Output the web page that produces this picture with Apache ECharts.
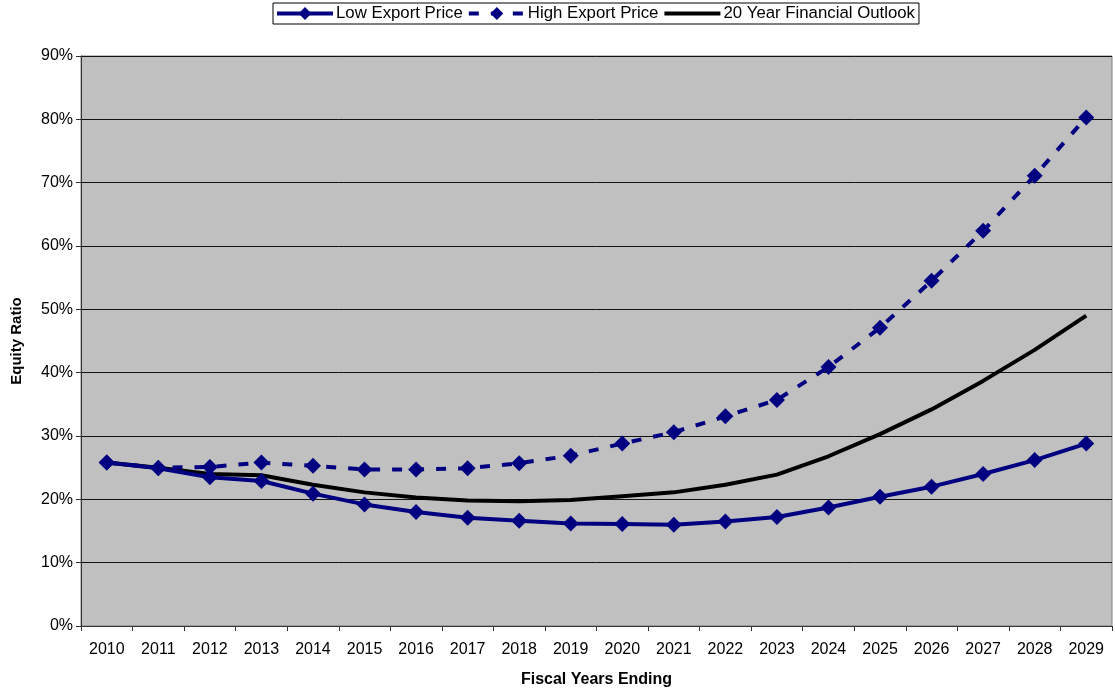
<!DOCTYPE html>
<html>
<head>
<meta charset="utf-8">
<script src="https://cdn.jsdelivr.net/npm/echarts@6/dist/echarts.min.js"></script>
<style>
  html, body { margin: 0; padding: 0; background: #fff; }
  #chart { width: 1115px; height: 694px; }
</style>
</head>
<body>
<div id="chart"></div>
<script>
// Fiscal years on the category axis
const years = ['2010','2011','2012','2013','2014','2015','2016','2017','2018','2019',
               '2020','2021','2022','2023','2024','2025','2026','2027','2028','2029'];

// Equity ratio (%) under each scenario
const lowExport = [25.8, 24.9, 23.5, 22.9, 20.9, 19.2, 18.0, 17.1, 16.6, 16.2,
                   16.1, 16.0, 16.5, 17.2, 18.7, 20.4, 22.0, 24.0, 26.2, 28.8];
const highExport = [25.8, 25.0, 25.1, 25.8, 25.3, 24.7, 24.7, 24.9, 25.7, 26.9,
                    28.8, 30.6, 33.1, 35.7, 40.9, 47.1, 54.5, 62.4, 71.1, 80.3];
const outlook20 = [25.8, 25.0, 24.0, 23.8, 22.3, 21.1, 20.3, 19.8, 19.7, 19.9,
                   20.5, 21.1, 22.3, 23.9, 26.8, 30.3, 34.2, 38.7, 43.6, 49.0];

const seriesNames = ['Low Export Price', 'High Export Price', '20 Year Financial Outlook'];

const font = 'Arial, "Liberation Sans", sans-serif';
const navy = '#000080';

const chart = echarts.init(document.getElementById('chart'), null, { renderer: 'canvas' });

chart.setOption({
  animation: false,
  backgroundColor: '#ffffff',
  textStyle: { fontFamily: font, color: '#000' },
  legend: {
    data: [
      { name: seriesNames[0], lineStyle: { width: 4 } },
      { name: seriesNames[1], lineStyle: { width: 4 } },
      { name: seriesNames[2], lineStyle: { width: 4 }, itemStyle: { opacity: 0 } }
    ],
    left: 273,
    top: 3,
    padding: [2, 4, 2, 2],
    itemGap: 4,
    itemWidth: 56,
    itemHeight: 16,
    borderColor: '#000',
    borderWidth: 1,
    textStyle: { fontFamily: font, fontSize: 16.8, color: '#000', padding: [0, 0, 0, -2] }
  },
  grid: {
    left: 81,
    right: 3,
    top: 56,
    bottom: 68,
    outerBoundsMode: 'none',
    containLabel: false,
    show: true,
    backgroundColor: '#c0c0c0',
    borderColor: '#808080',
    borderWidth: 1
  },
  xAxis: {
    type: 'category',
    data: years,
    boundaryGap: true,
    name: 'Fiscal Years Ending',
    nameLocation: 'middle',
    nameGap: 46,
    nameTextStyle: { fontFamily: font, fontSize: 16, fontWeight: 'bold', color: '#000' },
    axisLine: { lineStyle: { color: '#333', width: 1 } },
    axisTick: { show: true, length: 5, lineStyle: { color: '#333' } },
    axisLabel: { fontFamily: font, fontSize: 16, color: '#000', margin: 16 }
  },
  yAxis: {
    type: 'value',
    min: 0,
    max: 90,
    interval: 10,
    name: 'Equity Ratio',
    nameLocation: 'middle',
    nameGap: 57,
    nameRotate: 90,
    nameTextStyle: { fontFamily: font, fontSize: 15, fontWeight: 'bold', color: '#000' },
    axisLine: { show: true, lineStyle: { color: '#333', width: 1 } },
    axisTick: { show: true, length: 5, lineStyle: { color: '#333' } },
    axisLabel: { fontFamily: font, fontSize: 16, color: '#000', margin: 8, formatter: '{value}%' },
    splitLine: { show: true, lineStyle: { color: '#111', width: 1 } }
  },
  series: [
    {
      name: seriesNames[0],
      type: 'line',
      data: lowExport,
      symbol: 'diamond',
      symbolSize: [16, 16],
      itemStyle: { color: navy },
      lineStyle: { color: navy, width: 4 },
      z: 3
    },
    {
      name: seriesNames[1],
      type: 'line',
      data: highExport,
      symbol: 'diamond',
      symbolSize: [16, 16],
      itemStyle: { color: navy },
      lineStyle: { color: navy, width: 4, type: [10, 12] },
      z: 3
    },
    {
      name: seriesNames[2],
      type: 'line',
      data: outlook20,
      symbol: 'none',
      itemStyle: { color: '#000' },
      lineStyle: { color: '#000', width: 4 },
      z: 2
    }
  ]
});
</script>
</body>
</html>
